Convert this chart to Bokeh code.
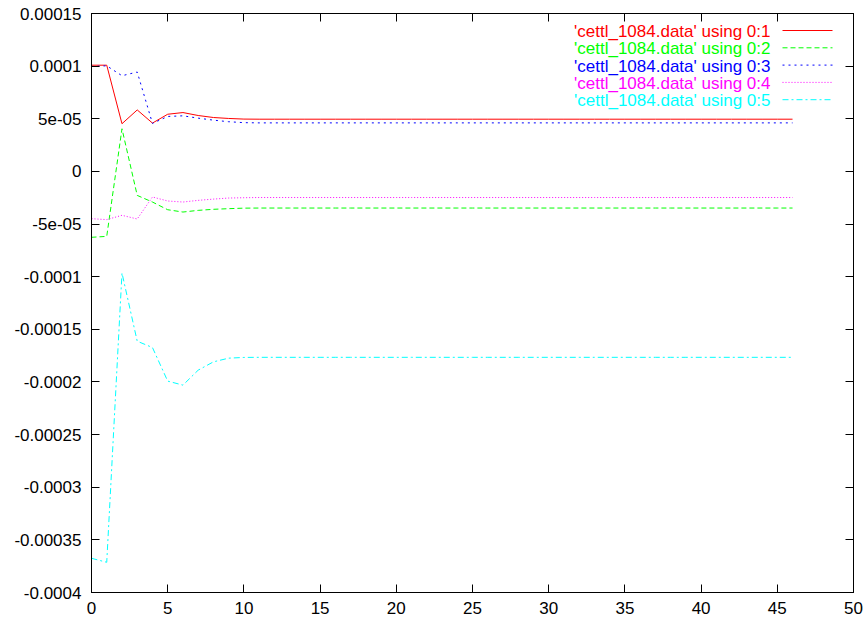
from bokeh.plotting import figure
from bokeh.models import Range1d, FixedTicker, LinearAxis, Label, Arrow, CustomLabelingPolicy
from bokeh.embed import file_html
from bokeh.resources import INLINE

# ---------------- data ----------------
x_index = list(range(47))

s1 = [1.009e-4, 1.009e-4, 4.53e-5, 5.84e-5, 4.59e-5, 5.43e-5, 5.59e-5, 5.31e-5, 5.12e-5, 5.03e-5,
      4.97e-5, 4.96e-5, 4.96e-5, 4.96e-5, 4.96e-5, 4.96e-5, 4.96e-5, 4.96e-5, 4.96e-5, 4.96e-5,
      4.96e-5, 4.96e-5, 4.96e-5, 4.96e-5, 4.96e-5, 4.96e-5, 4.96e-5, 4.96e-5, 4.96e-5, 4.96e-5,
      4.96e-5, 4.96e-5, 4.96e-5, 4.96e-5, 4.96e-5, 4.96e-5, 4.96e-5, 4.96e-5, 4.96e-5, 4.96e-5,
      4.96e-5, 4.96e-5, 4.96e-5, 4.96e-5, 4.96e-5, 4.96e-5, 4.96e-5]

s2 = [-6.26e-5, -6.17e-5, 4.05e-5, -2.28e-5, -2.91e-5, -3.64e-5, -3.86e-5, -3.70e-5, -3.60e-5, -3.54e-5,
      -3.49e-5, -3.48e-5, -3.48e-5, -3.48e-5, -3.48e-5, -3.48e-5, -3.48e-5, -3.48e-5, -3.48e-5, -3.48e-5,
      -3.48e-5, -3.48e-5, -3.48e-5, -3.48e-5, -3.48e-5, -3.48e-5, -3.48e-5, -3.48e-5, -3.48e-5, -3.48e-5,
      -3.48e-5, -3.48e-5, -3.48e-5, -3.48e-5, -3.48e-5, -3.48e-5, -3.48e-5, -3.48e-5, -3.48e-5, -3.48e-5,
      -3.48e-5, -3.48e-5, -3.48e-5, -3.48e-5, -3.48e-5, -3.48e-5, -3.48e-5]

s3 = [9.97e-5, 1.003e-4, 9.09e-5, 9.44e-5, 4.56e-5, 5.22e-5, 5.28e-5, 5.06e-5, 4.87e-5, 4.72e-5,
      4.63e-5, 4.61e-5, 4.61e-5, 4.61e-5, 4.61e-5, 4.61e-5, 4.61e-5, 4.61e-5, 4.61e-5, 4.61e-5,
      4.61e-5, 4.61e-5, 4.61e-5, 4.61e-5, 4.61e-5, 4.61e-5, 4.61e-5, 4.61e-5, 4.61e-5, 4.61e-5,
      4.61e-5, 4.61e-5, 4.61e-5, 4.61e-5, 4.61e-5, 4.61e-5, 4.61e-5, 4.61e-5, 4.61e-5, 4.61e-5,
      4.61e-5, 4.61e-5, 4.61e-5, 4.61e-5, 4.61e-5, 4.61e-5, 4.61e-5]

s4 = [-4.49e-5, -4.58e-5, -4.17e-5, -4.52e-5, -2.43e-5, -2.81e-5, -2.91e-5, -2.75e-5, -2.63e-5, -2.53e-5,
      -2.50e-5, -2.48e-5, -2.48e-5, -2.48e-5, -2.48e-5, -2.48e-5, -2.48e-5, -2.48e-5, -2.48e-5, -2.48e-5,
      -2.48e-5, -2.48e-5, -2.48e-5, -2.48e-5, -2.48e-5, -2.48e-5, -2.48e-5, -2.48e-5, -2.48e-5, -2.48e-5,
      -2.48e-5, -2.48e-5, -2.48e-5, -2.48e-5, -2.48e-5, -2.48e-5, -2.48e-5, -2.48e-5, -2.48e-5, -2.48e-5,
      -2.48e-5, -2.48e-5, -2.48e-5, -2.48e-5, -2.48e-5, -2.48e-5, -2.48e-5]

s5 = [-3.675e-4, -3.713e-4, -9.65e-5, -1.613e-4, -1.673e-4, -1.992e-4, -2.030e-4, -1.888e-4, -1.809e-4, -1.774e-4,
      -1.767e-4, -1.766e-4, -1.766e-4, -1.766e-4, -1.766e-4, -1.766e-4, -1.766e-4, -1.766e-4, -1.766e-4, -1.766e-4,
      -1.766e-4, -1.766e-4, -1.766e-4, -1.766e-4, -1.766e-4, -1.766e-4, -1.766e-4, -1.766e-4, -1.766e-4, -1.766e-4,
      -1.766e-4, -1.766e-4, -1.766e-4, -1.766e-4, -1.766e-4, -1.766e-4, -1.766e-4, -1.766e-4, -1.766e-4, -1.766e-4,
      -1.766e-4, -1.766e-4, -1.766e-4, -1.766e-4, -1.766e-4, -1.766e-4, -1.766e-4]

series_names = ["'cettl_1084.data' using 0:1",
                "'cettl_1084.data' using 0:2",
                "'cettl_1084.data' using 0:3",
                "'cettl_1084.data' using 0:4",
                "'cettl_1084.data' using 0:5"]

x_ticks = [0, 5, 10, 15, 20, 25, 30, 35, 40, 45, 50]
y_tick_labels = ["0.00015", "0.0001", "5e-05", "0", "-5e-05", "-0.0001", "-0.00015",
                 "-0.0002", "-0.00025", "-0.0003", "-0.00035", "-0.0004"]

# ---------------- styles ----------------
colors = ["#ff0000", "#00ff00", "#0000ff", "#ff00ff", "#00ffff"]
dashes = ["solid", "5 3", "2 4", "1 2", "6 3 2 3"]
FONT = "Liberation Sans"
FS = "17px"

p = figure(width=866, height=625, output_backend="svg", toolbar_location=None,
           x_range=Range1d(0, 50), y_range=Range1d(-0.0004, 0.00015),
           min_border_left=91, min_border_right=13, min_border_top=13, min_border_bottom=33,
           x_axis_location=None, y_axis_location=None)
p.grid.visible = False
p.outline_line_color = "black"
p.outline_line_width = 1
p.background_fill_color = "white"
p.border_fill_color = "white"

y_vals = [float(s) for s in y_tick_labels]
overrides = dict(zip(y_vals, y_tick_labels))


def style_axis(ax, labels=True):
    ax.major_tick_in = 8
    ax.major_tick_out = 0
    ax.minor_tick_in = 0
    ax.minor_tick_out = 0
    ax.axis_line_color = "black"
    ax.major_tick_line_color = "black"
    if labels:
        ax.major_label_text_font = FONT
        ax.major_label_text_font_size = FS
        ax.major_label_text_color = "black"
    else:
        ax.major_label_policy = CustomLabelingPolicy(code="return []")
        ax.major_label_text_font_size = "0px"
        ax.major_label_standoff = 0


left = LinearAxis(ticker=FixedTicker(ticks=y_vals))
left.major_label_overrides = overrides
style_axis(left)
left.major_label_standoff = 10
p.add_layout(left, "left")

right = LinearAxis(ticker=FixedTicker(ticks=y_vals))
style_axis(right, labels=False)
p.add_layout(right, "right")

below = LinearAxis(ticker=FixedTicker(ticks=x_ticks))
style_axis(below)
below.major_label_standoff = 9
p.add_layout(below, "below")

above = LinearAxis(ticker=FixedTicker(ticks=x_ticks))
style_axis(above, labels=False)
p.add_layout(above, "above")

all_series = [s1, s2, s3, s4, s5]
for ys, c, d in zip(all_series, colors, dashes):
    p.line(x_index, ys, line_color=c, line_width=1, line_dash=d)

# legend (gnuplot style: text right-aligned, sample to the right)
text_right = 679
sample_x0, sample_x1 = 691, 741
row0, row_step = 561, 17.3
for i, (name, c, d) in enumerate(zip(series_names, colors, dashes)):
    yy = row0 - row_step * i
    p.add_layout(Label(x=text_right, y=yy, x_units="screen", y_units="screen", text=name,
                       text_align="right", text_baseline="middle", text_color=c,
                       text_font=FONT, text_font_size=FS))
    p.add_layout(Arrow(x_start=sample_x0, y_start=yy + 1, x_end=sample_x1, y_end=yy + 1,
                       start_units="screen", end_units="screen", start=None, end=None,
                       line_color=c, line_width=1, line_dash=d))

open("out.html", "w").write(file_html(p, INLINE))
